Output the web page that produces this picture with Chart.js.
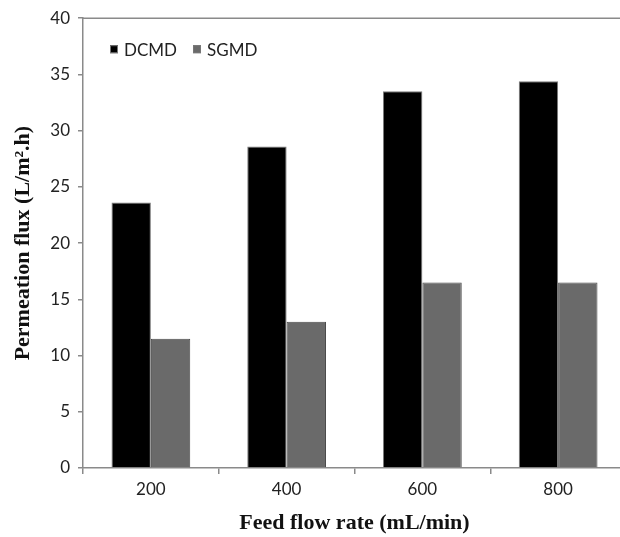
<!DOCTYPE html>
<html>
<head>
<meta charset="utf-8">
<script src="https://cdn.jsdelivr.net/npm/chart.js@4/dist/chart.umd.min.js"></script>
<style>
  html, body { margin: 0; padding: 0; background: #fff; overflow: hidden; }
  #wrap { width: 628px; height: 537px; }
</style>
</head>
<body>
<div id="wrap"><canvas id="c"></canvas></div>
<script>
// data
var flowRates = ['200', '400', '600', '800'];
var dcmd = [23.6, 28.6, 33.5, 34.4];
var sgmd = [11.5, 13.0, 16.5, 16.5];
var yTicks = [0, 5, 10, 15, 20, 25, 30, 35, 40];

var tickFont = { family: 'Lato, "Open Sans", sans-serif', size: 17 };
var serif = '"Liberation Serif", "DejaVu Serif", serif';

// box on top + legend inside the plot area
var framePlugin = {
    id: 'frame',
    afterDraw: function(chart){
        var ctx = chart.ctx;
        var a = chart.chartArea;
        ctx.save();
        ctx.strokeStyle = '#8a8a8a';
        ctx.lineWidth = 1.5;
        ctx.beginPath();
        ctx.moveTo(a.left, a.top);
        ctx.lineTo(a.right, a.top);
        ctx.stroke();

        // legend
        ctx.font = '17px ' + tickFont.family;
        ctx.textBaseline = 'middle';
        var x = a.left + 27;
        var y = a.top + 31;
        chart.data.datasets.forEach(function(ds){
            ctx.fillStyle = ds.backgroundColor;
            ctx.fillRect(x, y - 4, 8, 8);
            ctx.strokeStyle = '#777';
            ctx.lineWidth = 1;
            ctx.strokeRect(x + 0.5, y - 3.5, 7, 7);
            ctx.fillStyle = '#222';
            ctx.fillText(ds.label, x + 14, y + 1);
            x += 14 + ctx.measureText(ds.label).width + 16;
        });
        ctx.restore();
    }
};

new Chart(document.getElementById('c'), {
    type: 'bar',
    data: {
        labels: flowRates,
        datasets: [
            { label: 'DCMD', data: dcmd, backgroundColor: '#000000', borderColor: '#7a7a7a', borderWidth: 1 },
            { label: 'SGMD', data: sgmd, backgroundColor: '#6a6a6a', borderColor: '#4a4a4a', borderWidth: 1 }
        ]
    },
    options: {
        responsive: true,
        maintainAspectRatio: false,
        animation: false,
        layout: { padding: { top: 16, right: 2, left: 0, bottom: 0 } },
        plugins: { legend: { display: false }, tooltip: { enabled: false } },
        datasets: { bar: { categoryPercentage: 0.58, barPercentage: 1.0 } },
        scales: {
            x: {
                grid: { offset: true, drawOnChartArea: false, drawTicks: true, tickLength: 6, color: '#8a8a8a', lineWidth: 1.5 },
                border: { color: '#8a8a8a', width: 1.5 },
                ticks: { font: tickFont, color: '#222', padding: 5, maxRotation: 0 },
                title: { display: true, text: 'Feed flow rate (mL/min)', font: { family: serif, size: 22, weight: 'bold' }, color: '#111', padding: { top: 0, bottom: 0 } },
                afterFit: function(s){ s.height = 69; }
            },
            y: {
                min: 0, max: 40,
                afterBuildTicks: function(s){ s.ticks = yTicks.map(function(v){ return { value: v }; }); },
                grid: { drawOnChartArea: false, drawTicks: true, tickLength: 5, color: '#8a8a8a', lineWidth: 1.5 },
                border: { color: '#8a8a8a', width: 1.5 },
                ticks: { font: tickFont, color: '#222', padding: 8 },
                title: { display: true, text: 'Permeation flux (L/m\u00b2.h)', font: { family: serif, size: 22, weight: 'bold' }, color: '#111', padding: { top: 10, bottom: 4 } },
                afterFit: function(s){ s.width = 83; }
            }
        }
    },
    plugins: [framePlugin]
});
</script>
</body>
</html>
